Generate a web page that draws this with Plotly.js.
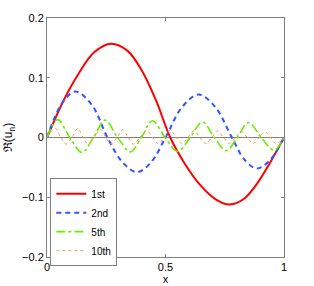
<!DOCTYPE html>
<html>
<head>
<meta charset="utf-8">
<script src="https://cdn.plot.ly/plotly-3.0.1.min.js"></script>
<style>html,body{margin:0;padding:0;background:#fff;}#chart{width:314px;height:286px;}</style>
</head>
<body>
<div id="chart"></div>
<script>
// Mode 1
const x1 = [0, 0.07, 0.135, 0.2, 0.27, 0.34, 0.4, 0.46, 0.52, 0.58, 0.645, 0.71, 0.77, 0.83, 0.885, 0.94, 1];
const y1 = [0, 0.062, 0.108, 0.143, 0.157, 0.145, 0.112, 0.062, 0, -0.043, -0.079, -0.103, -0.112, -0.103, -0.078, -0.043, 0];
// Mode 2
const x2 = [0, 0.063, 0.12, 0.19, 0.255, 0.318, 0.38, 0.44, 0.5, 0.57, 0.64, 0.71, 0.78, 0.833, 0.886, 0.943, 1];
const y2 = [0, 0.057, 0.077, 0.054, 0, -0.041, -0.058, -0.041, 0, 0.051, 0.072, 0.051, 0, -0.037, -0.052, -0.037, 0];
// Mode 5
const x5 = [0, 0.045, 0.096, 0.148, 0.196, 0.245, 0.298, 0.352, 0.398, 0.445, 0.498, 0.552, 0.604, 0.656, 0.706, 0.756, 0.803, 0.85, 0.904, 0.958, 1];
const y5 = [0, 0.030, 0, -0.025, 0, 0.029, 0, -0.024, 0, 0.028, 0, -0.023, 0, 0.026, 0, -0.022, 0, 0.025, 0, -0.021, 0];
// Mode 10
const x10 = [0, 0.035, 0.058, 0.08, 0.105, 0.13, 0.152, 0.175, 0.2, 0.225, 0.248, 0.27, 0.295, 0.32, 0.343, 0.365, 0.392, 0.42, 0.445, 0.47, 0.495, 0.52, 0.545, 0.57, 0.595, 0.62, 0.645, 0.67, 0.695, 0.72, 0.745, 0.77, 0.795, 0.82, 0.845, 0.87, 0.895, 0.92, 0.943, 0.965, 1];
const y10 = [0, 0.015, 0, -0.011, 0, 0.015, 0, -0.011, 0, 0.014, 0, -0.011, 0, 0.013, 0, -0.011, 0, 0.012, 0, -0.010, 0, 0.012, 0, -0.010, 0, 0.011, 0, -0.010, 0, 0.011, 0, -0.010, 0, 0.010, 0, -0.010, 0, 0.010, 0, -0.010, 0];

const names = ['1st', '2nd', '5th', '10th'];
const xTicks = [0, 0.5, 1];
const xTickText = ['0', '0.5', '1'];
const yTicks = [-0.2, -0.1, 0, 0.1, 0.2];
const yTickText = ['\u22120.2', '\u22120.1', '0', '0.1', '0.2'];

const traces = [
  {x: x1, y: y1, name: names[0], mode: 'lines', line: {color: '#ff0000', width: 2, shape: 'spline', smoothing: 1}},
  {x: x2, y: y2, name: names[1], mode: 'lines', line: {color: '#2f55ff', width: 2, dash: '5px,4px', shape: 'spline', smoothing: 1}},
  {x: x5, y: y5, name: names[2], mode: 'lines', line: {color: '#66ee00', width: 1.6, dash: 'dashdot', shape: 'spline', smoothing: 1}},
  {x: x10, y: y10, name: names[3], mode: 'lines', line: {color: '#ff9950', width: 1, dash: 'dot', shape: 'spline', smoothing: 1}}
];

const fontFam = 'Liberation Sans, Arial, sans-serif';
const axisCommon = {
  showgrid: false,
  showline: true,
  mirror: 'ticks',
  linecolor: '#808080',
  linewidth: 1,
  ticks: 'inside',
  ticklen: 3,
  tickcolor: '#808080',
  tickfont: {family: fontFam, size: 11, color: '#000'}
};

const layout = {
  width: 314, height: 286,
  margin: {l: 47, r: 30, t: 18, b: 29},
  paper_bgcolor: '#fff', plot_bgcolor: '#fff',
  showlegend: true,
  xaxis: Object.assign({}, axisCommon, {
    range: [0, 1], tickvals: xTicks, ticktext: xTickText, zeroline: false,
    title: {text: 'x', font: {family: fontFam, size: 11, color: '#000'}, standoff: 1}
  }),
  yaxis: Object.assign({}, axisCommon, {
    range: [-0.2, 0.2], tickvals: yTicks, ticktext: yTickText,
    zeroline: true, zerolinecolor: '#808080', zerolinewidth: 1,
    title: {text: '\u211C(u<sub>n</sub>)', font: {family: fontFam, size: 12, color: '#000'}, standoff: 6}
  }),
  legend: {
    x: 0.014, y: 0.33, xanchor: 'left', yanchor: 'top',
    bgcolor: '#fff', bordercolor: '#808080', borderwidth: 1,
    font: {family: fontFam, size: 10, color: '#000'},
    tracegroupgap: 0, itemwidth: 30
  }
};

Plotly.newPlot('chart', traces, layout, {displayModeBar: false, staticPlot: true});
</script>
</body>
</html>
